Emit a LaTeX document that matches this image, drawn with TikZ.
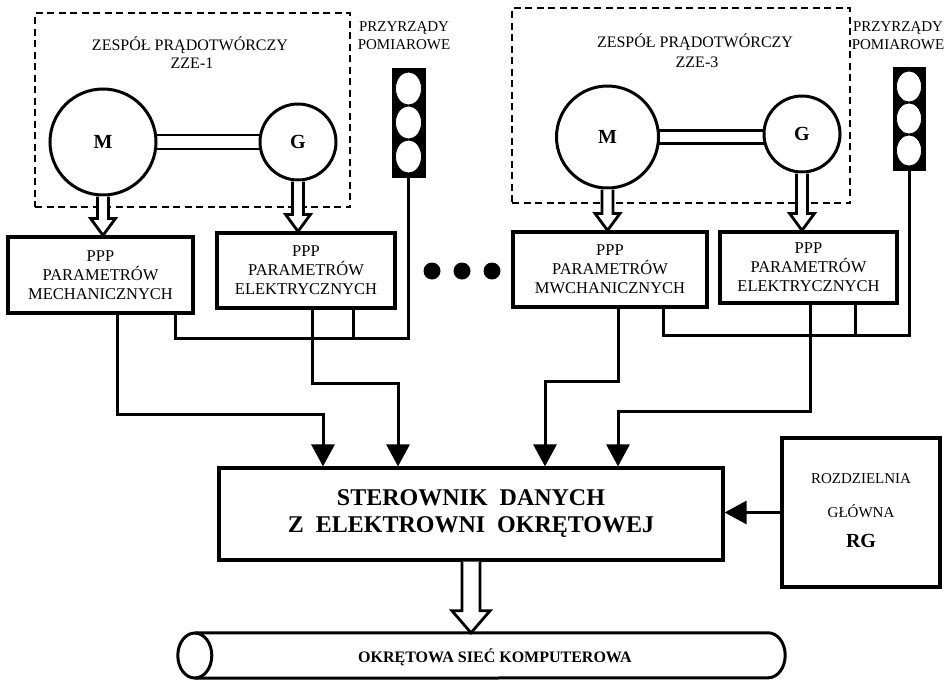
\documentclass[tikz,border=0pt]{standalone}
\usepackage{fontspec}
\setmainfont{Liberation Serif}
\usetikzlibrary{shapes.geometric,arrows.meta,calc}
\newcommand{\hollowarr}[5]{%
  \draw[harrow] ($(#1)+(-#3,0)$) -- ($(#2)+(-#3,-#5)$) -- ($(#2)+(-#4,-#5)$) -- (#2)
    -- ($(#2)+(#4,-#5)$) -- ($(#2)+(#3,-#5)$) -- ($(#1)+(#3,0)$);}
\tikzset{
  pbox/.style={draw, line width=3.2pt, fill=white, align=center, inner sep=0pt,
    font=\fontsize{16.5}{19}\selectfont},
  zone/.style={draw, line width=1.8pt, dash pattern=on 7pt off 4.5pt},
  ttl/.style={font=\fontsize{16}{19}\selectfont, inner sep=0pt, align=center},
  meas/.style={font=\fontsize{15}{18}\selectfont, inner sep=0pt, align=center},
  mach/.style={circle, draw, line width=3pt, fill=white, inner sep=0pt,
    font=\bfseries\fontsize{20}{24}\selectfont},
  shaftline/.style={draw, line width=2.6pt, fill=white},
  lightbox/.style={rectangle, fill=black, draw=black, inner sep=0pt},
  lamp/.style={ellipse, fill=white, draw=black, line width=0.8pt, inner sep=0pt},
  harrow/.style={line width=2.8pt, fill=white, line join=miter},
  conn/.style={line width=3pt},
  tip/.style={-{Triangle[length=22pt,width=23pt]}},
  dotc/.style={circle, fill=black, inner sep=0pt, minimum size=17pt},
  cyl/.style={line width=3pt},
}
\begin{document}
\begin{tikzpicture}[x=1pt,y=-1pt]
\useasboundingbox (0,0) rectangle (949,680);

% ---------- ZZE-1 ----------
\node[zone, minimum width=315pt, minimum height=194pt] (z1) at (192.5,110) {};
\node[ttl] (t1) at (190,45) {ZESPÓŁ PRĄDOTWÓRCZY};
\node[ttl] (t1b) at (192,63) {ZZE-1};
\coordinate (m1) at (103,142);
\coordinate (g1) at (298,142);
\draw[shaftline] ($(m1)+(0,-7)$) rectangle ($(g1)+(0,7)$);
\node[mach, minimum size=106pt] (M1) at (m1) {M};
\node[mach, minimum size=76pt] (G1) at (g1) {G};

\node[meas] (q1) at (404,36) {PRZYRZĄDY\\POMIAROWE};
\node[lightbox, minimum width=33pt, minimum height=109pt] (L1) at (408.5,122.5) {};
\foreach \d/\n in {-34/a,0/b,34/c}
  \node[lamp, minimum width=26pt, minimum height=33pt] (L1\n) at ($(L1.center)+(0,\d)$) {};

\node[pbox, minimum width=185pt, minimum height=76pt] (p1) at (100.5,275) {PPP\\PARAMETRÓW\\MECHANICZNYCH};
\node[pbox, minimum width=178pt, minimum height=75pt] (p2) at (306,270.5) {PPP\\PARAMETRÓW\\ELEKTRYCZNYCH};

\hollowarr{M1.south}{M1.south |- p1.north}{5.5}{12.5}{17}
\hollowarr{G1.south}{G1.south |- p2.north}{5.5}{12.5}{17}

% ---------- dots ----------
\node[dotc] (d1) at (432,271) {};
\node[dotc] (d2) at (462,271) {};
\node[dotc] (d3) at (492,271) {};

% ---------- ZZE-3 ----------
\node[zone, minimum width=338pt, minimum height=195pt] (z3) at (681,105.5) {};
\node[ttl] (t3) at (695,42) {ZESPÓŁ PRĄDOTWÓRCZY};
\node[ttl] (t3b) at (697,62) {ZZE-3};
\coordinate (m3) at (607.5,137);
\coordinate (g3) at (802,134);
\draw[shaftline] ($(m3)+(0,-6.5)$) rectangle ($(m3 -| g3)+(0,6.5)$);
\node[mach, minimum size=102pt] (M3) at (m3) {M};
\node[mach, minimum size=76pt] (G3) at (g3) {G};

\node[meas] (q3) at (898,36) {PRZYRZĄDY\\POMIAROWE};
\node[lightbox, minimum width=32pt, minimum height=103pt] (L3) at (909,118.5) {};
\foreach \d/\n in {-32/a,0/b,32/c}
  \node[lamp, minimum width=25pt, minimum height=31pt] (L3\n) at ($(L3.center)+(0,\d)$) {};

\node[pbox, minimum width=194pt, minimum height=75pt] (p3) at (610,269.5) {PPP\\PARAMETRÓW\\MWCHANICZNYCH};
\node[pbox, minimum width=177pt, minimum height=71pt] (p4) at (808.5,267.5) {PPP\\PARAMETRÓW\\ELEKTRYCZNYCH};

\hollowarr{M3.south}{M3.south |- p3.north}{5.5}{12.5}{17}
\hollowarr{G3.south}{G3.south |- p4.north}{5.5}{12.5}{17}

% ---------- central ----------
\node[pbox, minimum width=504pt, minimum height=92pt, font=\bfseries\fontsize{24}{27}\selectfont]
  (ster) at (471,514) {STEROWNIK\ \ DANYCH\\Z\ \ ELEKTROWNI\ \ OKRĘTOWEJ};
\node[pbox, minimum width=158pt, minimum height=149pt] (rg) at (861,512.5) {};
\node[font=\fontsize{15}{18}\selectfont, inner sep=0pt] (rg1) at (861,479) {ROZDZIELNIA};
\node[font=\fontsize{15}{18}\selectfont, inner sep=0pt] (rg2) at (861,511) {GŁÓWNA};
\node[font=\bfseries\fontsize{20}{24}\selectfont, inner sep=0pt] (rg3) at (861,541) {RG};

% network cylinder
\node[minimum width=607pt, minimum height=45pt, inner sep=0pt] (net) at (481.5,655.5) {};
\draw[cyl] ($(net.north west)+(17,0)$) -- ($(net.north east)+(-17,0)$)
  arc[start angle=-90, end angle=90, x radius=17, y radius=22.5]
  -- ($(net.south west)+(17,0)$);
\draw[cyl] ($(net.west)+(17,0)$) ellipse [x radius=17, y radius=22.5];
\node[font=\bfseries\fontsize{16}{19}\selectfont, inner sep=0pt] (nett) at (495,657) {OKRĘTOWA SIEĆ KOMPUTEROWA};

\hollowarr{ster.south}{ster.south |- net.north}{9}{19}{22}

% ---------- connectors ----------
\coordinate (bus1) at (0,338);
\coordinate (bus3) at (0,335);
\draw[conn] ([xshift=74.5pt]p1.south) |- (bus1 -| L1.south) -- (L1.south);
\draw[conn] ([xshift=47pt]p2.south) -- ([xshift=47pt]p2.south |- bus1);
\draw[conn] ([xshift=53pt]p3.south) |- (bus3 -| L3.south) -- (L3.south);
\draw[conn] ([xshift=46.5pt]p4.south) -- ([xshift=46.5pt]p4.south |- bus3);

\draw[conn,tip] ([xshift=16.5pt]p1.south) -- ++(0,100) -| ([xshift=-148pt]ster.north);
\draw[conn,tip] ([xshift=6pt]p2.south) -- ++(0,74) -| ([xshift=-73pt]ster.north);
\draw[conn,tip] ([xshift=8pt]p3.south) -- ++(0,73) -| ([xshift=74pt]ster.north);
\draw[conn,tip] ([xshift=1.5pt]p4.south) -- ++(0,107) -| ([xshift=147pt]ster.north);
\draw[conn,tip] (rg.west) -- (rg.west -| ster.east);
\end{tikzpicture}
\end{document}
